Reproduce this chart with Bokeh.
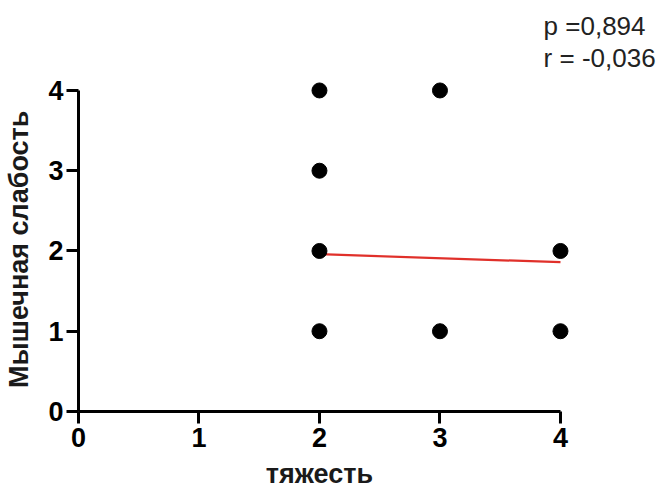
import math
from bokeh.plotting import figure
from bokeh.models import Range1d, FixedTicker, Label
from bokeh.embed import file_html
from bokeh.resources import INLINE

# data
severity = [2, 2, 2, 2, 3, 3, 4, 4]
weakness = [4, 3, 2, 1, 4, 1, 2, 1]
fit_x = [2, 4]
fit_y = [1.96, 1.86]
x_ticks = [0, 1, 2, 3, 4]
y_ticks = [0, 1, 2, 3, 4]
x_title = "тяжесть"
y_title = "Мышечная слабость"
stats_lines = ["p =0,894", "r = -0,036"]

p = figure(width=663, height=491, output_backend="svg", toolbar_location=None,
           x_range=Range1d(-0.647, 4.855), y_range=Range1d(-0.997, 5.121),
           min_border_left=0, min_border_right=0, min_border_top=0, min_border_bottom=0)
p.outline_line_color = None
p.grid.visible = False
p.background_fill_color = "white"
p.border_fill_color = "white"

for ax, ticks in ((p.xaxis, x_ticks), (p.yaxis, y_ticks)):
    ax.fixed_location = 0
    ax.ticker = FixedTicker(ticks=ticks)
    ax.bounds = (0, 4)
    ax.axis_line_width = 3
    ax.axis_line_color = "black"
    ax.major_tick_line_width = 3
    ax.major_tick_line_color = "black"
    ax.major_tick_out = 12
    ax.major_tick_in = 0
    ax.minor_tick_line_color = None
    ax.major_label_text_font = "Liberation Sans"
    ax.major_label_text_font_style = "bold"
    ax.major_label_text_font_size = "27px"
    ax.major_label_text_color = "black"

p.xaxis.major_label_standoff = 5
p.yaxis.major_label_standoff = 3

p.line(fit_x, fit_y, line_color="#e0302a", line_width=2.2)
p.scatter(severity, weakness, size=15, fill_color="black", line_color="black")

common = dict(text_font="Liberation Sans", text_font_style="bold", text_color="#1a1a1a",
              text_baseline="alphabetic", text_align="center")
p.add_layout(Label(x=2.0, y=-0.78, text=x_title, text_font_size="27px", **common))
p.add_layout(Label(x=-0.49, y=2.02, text=y_title, text_font_size="27px",
                   angle=math.pi / 2, **common))

for i, t in enumerate(stats_lines):
    p.add_layout(Label(x=3.86, y=4.80 - i * 0.399, text=t, text_font="Liberation Sans",
                       text_font_size="26px", text_color="#222222",
                       text_baseline="alphabetic", text_align="left"))

open("out.html", "w").write(file_html(p, INLINE))
